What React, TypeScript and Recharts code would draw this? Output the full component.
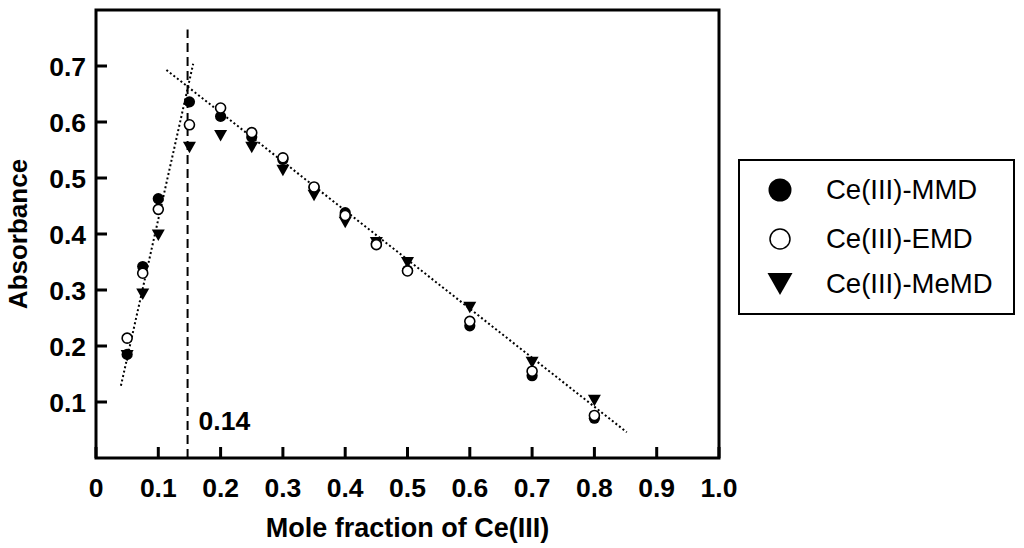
import React from 'react';
import {
  ScatterChart,
  Scatter,
  XAxis,
  YAxis,
  ReferenceLine,
  ReferenceArea,
  ReferenceDot,
} from 'recharts';

const moleFractions = [0.05, 0.075, 0.1, 0.15, 0.2, 0.25, 0.3, 0.35, 0.4, 0.45, 0.5, 0.6, 0.7, 0.8];
const mmdValues = [0.185, 0.342, 0.463, 0.636, 0.61, 0.573, 0.533, 0.483, 0.438, 0.383, 0.335, 0.236, 0.147, 0.071];
const emdValues = [0.214, 0.33, 0.444, 0.595, 0.625, 0.581, 0.536, 0.484, 0.433, 0.381, 0.334, 0.244, 0.155, 0.076];
const memdValues = [0.183, 0.293, 0.398, 0.555, 0.576, 0.555, 0.514, 0.469, 0.421, 0.385, 0.349, 0.269, 0.171, 0.103];

const risingFit = [
  { x: 0.04, y: 0.129 },
  { x: 0.156, y: 0.704 },
];
const fallingFit = [
  { x: 0.113, y: 0.693 },
  { x: 0.852, y: 0.046 },
];
const intersectionX = 0.147;
const intersectionTop = 0.765;
const intersectionLabel = '0.14';
const intersectionLabelY = 0.0676;

const xTicks = [0, 0.1, 0.2, 0.3, 0.4, 0.5, 0.6, 0.7, 0.8, 0.9, 1.0];
const xTickLabels = ['0', '0.1', '0.2', '0.3', '0.4', '0.5', '0.6', '0.7', '0.8', '0.9', '1.0'];
const yTicks = [0.1, 0.2, 0.3, 0.4, 0.5, 0.6, 0.7];
const yTickLabels = ['0.1', '0.2', '0.3', '0.4', '0.5', '0.6', '0.7'];

const seriesNames = ['Ce(III)-MMD', 'Ce(III)-EMD', 'Ce(III)-MeMD'];

const toPoints = (vals: number[]) => moleFractions.map((x, i) => ({ x, y: vals[i] }));

const FONT = '"Liberation Sans", Arial, sans-serif';

const FilledCircle = (props: any) => {
  const { cx, cy } = props;
  if (cx == null || cy == null) return null;
  return <circle cx={cx} cy={cy} r={5.6} fill="#000" />;
};
const OpenCircle = (props: any) => {
  const { cx, cy } = props;
  if (cx == null || cy == null) return null;
  return <circle cx={cx} cy={cy} r={5} fill="#fff" stroke="#000" strokeWidth={1.6} />;
};
const DownTriangle = (props: any) => {
  const { cx, cy } = props;
  if (cx == null || cy == null) return null;
  return (
    <polygon
      points={`${cx - 6.5},${cy - 5.5} ${cx + 6.5},${cy - 5.5} ${cx},${cy + 6}`}
      fill="#000"
    />
  );
};

const XTick = (props: any) => {
  const { x, y, payload, index } = props;
  return (
    <g>
      <line x1={x} y1={y} x2={x} y2={y - 11} stroke="#000" strokeWidth={3} />
      <text
        x={x}
        y={y + 39}
        textAnchor="middle"
        fontFamily={FONT}
        fontWeight="bold"
        fontSize={26.5}
        fill="#000"
      >
        {xTickLabels[xTicks.indexOf(payload.value)] ?? xTickLabels[index]}
      </text>
    </g>
  );
};

const YTick = (props: any) => {
  const { x, y, payload, index } = props;
  return (
    <g>
      <line x1={x} y1={y} x2={x + 11} y2={y} stroke="#000" strokeWidth={3} />
      <text
        x={x - 10}
        y={y + 9.5}
        textAnchor="end"
        fontFamily={FONT}
        fontWeight="bold"
        fontSize={26.5}
        fill="#000"
      >
        {yTickLabels[yTicks.indexOf(payload.value)] ?? yTickLabels[index]}
      </text>
    </g>
  );
};

const XTitle = (props: any) => {
  const vb = props.viewBox || {};
  return (
    <text
      x={vb.x + vb.width / 2}
      y={vb.y + 79}
      textAnchor="middle"
      fontFamily={FONT}
      fontWeight="bold"
      fontSize={27}
      fill="#000"
    >
      Mole fraction of Ce(III)
    </text>
  );
};

const YTitle = (props: any) => {
  const vb = props.viewBox || {};
  const cx = 17.5;
  const cy = vb.y + vb.height / 2;
  return (
    <text
      x={cx}
      y={cy}
      transform={`rotate(-90, ${cx}, ${cy})`}
      textAnchor="middle"
      dominantBaseline="central"
      fontFamily={FONT}
      fontWeight="bold"
      fontSize={26}
      fill="#000"
    >
      Absorbance
    </text>
  );
};

const LegendIcon = ({ kind }: { kind: number }) => (
  <svg width={30} height={30} style={{ position: 'absolute', left: 25, top: 0 }}>
    {kind === 0 && <circle cx={15} cy={15} r={11.5} fill="#000" />}
    {kind === 1 && <circle cx={15} cy={15} r={10} fill="#fff" stroke="#000" strokeWidth={1.5} />}
    {kind === 2 && <polygon points="2.5,4 27.5,4 15,26" fill="#000" />}
  </svg>
);

const legendRowCenters = [31, 80, 125];

export default function App() {
  return (
    <div style={{ position: 'absolute', left: 0, top: 0, width: 1024, height: 548, background: '#fff' }}>
      <ScatterChart width={1024} height={548} margin={{ top: 10, right: 305, bottom: 0, left: 0 }}>
        <XAxis
          type="number"
          dataKey="x"
          domain={[0, 1]}
          ticks={xTicks}
          interval={0}
          height={90}
          axisLine={false}
          tickLine={false}
          tickSize={0}
          tickMargin={0}
          tick={<XTick />}
          label={<XTitle />}
        />
        <YAxis
          type="number"
          dataKey="y"
          domain={[0, 0.8]}
          ticks={yTicks}
          interval={0}
          width={96}
          axisLine={false}
          tickLine={false}
          tickSize={0}
          tickMargin={0}
          tick={<YTick />}
          label={<YTitle />}
        />
        <ReferenceArea
          x1={0}
          x2={1}
          y1={0}
          y2={0.8}
          ifOverflow="visible"
          fill="none"
          fillOpacity={0}
          stroke="#000"
          strokeWidth={3}
        />
        <ReferenceLine
          segment={[
            { x: intersectionX, y: 0 },
            { x: intersectionX, y: intersectionTop },
          ]}
          stroke="#000"
          strokeWidth={2}
          strokeDasharray="9 5"
        />
        <ReferenceLine segment={risingFit} stroke="#000" strokeWidth={2} strokeDasharray="2 2.5" />
        <ReferenceLine segment={fallingFit} stroke="#000" strokeWidth={2} strokeDasharray="2 2.5" />
        <ReferenceDot
          x={intersectionX}
          y={intersectionLabelY}
          r={0.01}
          fill="none"
          stroke="none"
          label={{
            value: intersectionLabel,
            position: 'right',
            offset: 11,
            fontFamily: FONT,
            fontWeight: 'bold',
            fontSize: 26.5,
            fill: '#000',
          }}
        />
        <Scatter name={seriesNames[2]} data={toPoints(memdValues)} shape={<DownTriangle />} isAnimationActive={false} />
        <Scatter name={seriesNames[0]} data={toPoints(mmdValues)} shape={<FilledCircle />} isAnimationActive={false} />
        <Scatter name={seriesNames[1]} data={toPoints(emdValues)} shape={<OpenCircle />} isAnimationActive={false} />
      </ScatterChart>
      <div
        style={{
          position: 'absolute',
          left: 738,
          top: 159,
          width: 277,
          height: 156,
          boxSizing: 'border-box',
          border: '2px solid #000',
          background: '#fff',
        }}
      >
        {seriesNames.map((name, i) => (
          <div
            key={name}
            style={{ position: 'absolute', left: 0, top: legendRowCenters[i] - 2 - 15, height: 30, width: 273 }}
          >
            <LegendIcon kind={i} />
            <span
              style={{
                position: 'absolute',
                left: 86,
                top: 0,
                lineHeight: '30px',
                fontFamily: FONT,
                fontSize: 27.5,
                color: '#000',
                whiteSpace: 'nowrap',
              }}
            >
              {name}
            </span>
          </div>
        ))}
      </div>
    </div>
  );
}
